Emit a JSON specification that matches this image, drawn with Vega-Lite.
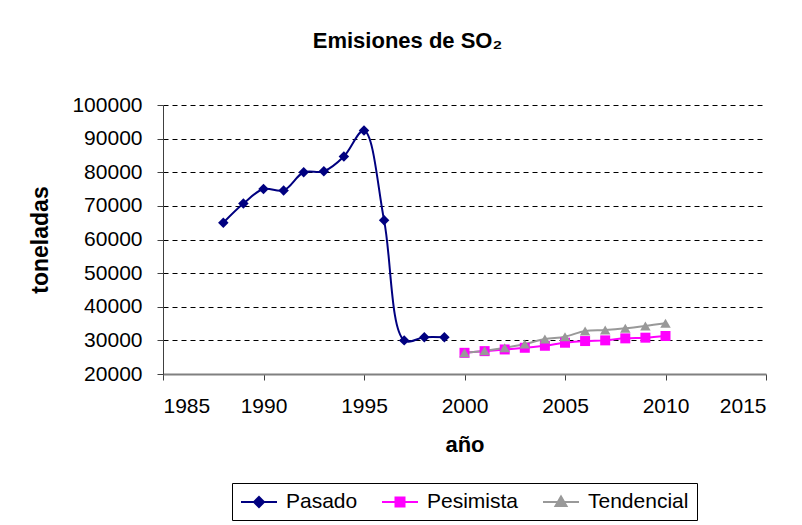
{
  "$schema": "https://vega.github.io/schema/vega-lite/v6.json",
  "autosize": "none",
  "width": 603,
  "height": 269,
  "padding": {"left": 163, "top": 105, "right": 36, "bottom": 151},
  "background": "white",
  "config": {
    "font": "Liberation Sans",
    "view": {"stroke": null}
  },
  "title": {
    "text": "Emisiones de SO₂",
    "fontSize": 22,
    "fontWeight": "bold",
    "color": "black",
    "anchor": "middle",
    "dx": -57,
    "offset": 41
  },
  "data": {
    "values": [
      {"serie": "Pasado", "año": 1988, "t": 65000},
      {"serie": "Pasado", "año": 1989, "t": 70700},
      {"serie": "Pasado", "año": 1990, "t": 75000},
      {"serie": "Pasado", "año": 1991, "t": 74600},
      {"serie": "Pasado", "año": 1992, "t": 80000},
      {"serie": "Pasado", "año": 1993, "t": 80300},
      {"serie": "Pasado", "año": 1994, "t": 84700},
      {"serie": "Pasado", "año": 1995, "t": 92400},
      {"serie": "Pasado", "año": 1996, "t": 65700},
      {"serie": "Pasado", "año": 1997, "t": 30000},
      {"serie": "Pasado", "año": 1998, "t": 30900},
      {"serie": "Pasado", "año": 1999, "t": 30900},
      {"serie": "Pesimista", "año": 2000, "t": 26300},
      {"serie": "Pesimista", "año": 2001, "t": 26800},
      {"serie": "Pesimista", "año": 2002, "t": 27300},
      {"serie": "Pesimista", "año": 2003, "t": 27800},
      {"serie": "Pesimista", "año": 2004, "t": 28400},
      {"serie": "Pesimista", "año": 2005, "t": 29300},
      {"serie": "Pesimista", "año": 2006, "t": 29800},
      {"serie": "Pesimista", "año": 2007, "t": 30000},
      {"serie": "Pesimista", "año": 2008, "t": 30600},
      {"serie": "Pesimista", "año": 2009, "t": 30800},
      {"serie": "Pesimista", "año": 2010, "t": 31300},
      {"serie": "Tendencial", "año": 2000, "t": 26300},
      {"serie": "Tendencial", "año": 2001, "t": 26900},
      {"serie": "Tendencial", "año": 2002, "t": 27800},
      {"serie": "Tendencial", "año": 2003, "t": 28900},
      {"serie": "Tendencial", "año": 2004, "t": 30400},
      {"serie": "Tendencial", "año": 2005, "t": 31100},
      {"serie": "Tendencial", "año": 2006, "t": 32800},
      {"serie": "Tendencial", "año": 2007, "t": 33100},
      {"serie": "Tendencial", "año": 2008, "t": 33600},
      {"serie": "Tendencial", "año": 2009, "t": 34300},
      {"serie": "Tendencial", "año": 2010, "t": 35100}
    ]
  },
  "encoding": {
    "x": {
      "field": "año",
      "type": "quantitative",
      "scale": {"domain": [1985, 2015], "nice": false, "zero": false},
      "axis": {
        "title": "año",
        "titleFontSize": 22,
        "titleFontWeight": "bold",
        "titleColor": "black",
        "titlePadding": 18,
        "values": [1985, 1990, 1995, 2000, 2005, 2010, 2015],
        "format": "d",
        "labelFontSize": 21,
        "labelColor": "black",
        "labelPadding": 15,
        "tickSize": 6,
        "tickColor": "#404040",
        "domainColor": "#808080",
        "domainWidth": 2,
        "grid": false
      }
    },
    "y": {
      "field": "t",
      "type": "quantitative",
      "scale": {"domain": [20000, 100000], "nice": false, "zero": false},
      "axis": {
        "title": "toneladas",
        "titleFontSize": 23,
        "titleFontWeight": "bold",
        "titleColor": "black",
        "titlePadding": 19,
        "values": [20000, 30000, 40000, 50000, 60000, 70000, 80000, 90000, 100000],
        "format": "d",
        "labelFontSize": 21,
        "labelColor": "black",
        "labelPadding": 15,
        "tickSize": 6,
        "tickColor": "#404040",
        "domainColor": "#404040",
        "grid": true,
        "gridColor": "black",
        "gridDash": [5, 4],
        "gridWidth": 1
      }
    }
  },
  "layer": [
    {
      "mark": {"type": "line", "interpolate": "catmull-rom", "strokeWidth": 2},
      "encoding": {
        "color": {
          "field": "serie",
          "type": "nominal",
          "scale": {"domain": ["Pasado", "Pesimista", "Tendencial"], "range": ["#000080", "#FF00FF", "#999999"]},
          "legend": {
            "title": null,
            "orient": "none",
            "direction": "horizontal",
            "legendX": 69,
            "legendY": 378,
            "padding": 8,
            "strokeColor": "black",
            "fillColor": "white",
            "labelFontSize": 21,
            "labelColor": "black",
            "labelOffset": 24,
            "columnPadding": 20,
            "symbolSize": 400,
            "symbolStrokeWidth": 2,
            "encode": {
              "symbols": {
                "update": {
                  "shape": {"signal": "datum.value === 'Pasado' ? 'M-1,0L2.6,0M0.8,-0.5L1.3,0L0.8,0.5L0.3,0Z' : datum.value === 'Pesimista' ? 'M-1,0L2.6,0M0.35,-0.45L1.25,-0.45L1.25,0.45L0.35,0.45Z' : 'M-1,0L2.6,0M0.8,-0.55L1.35,0.4L0.25,0.4Z'"},
                  "fill": {"scale": "color", "field": "value"},
                  "stroke": {"scale": "color", "field": "value"},
                  "fillOpacity": {"value": 1},
                  "strokeWidth": {"value": 2}
                }
              }
            }
          }
        }
      }
    },
    {
      "transform": [{"filter": "datum.serie === 'Pasado'"}],
      "mark": {"type": "point", "shape": "diamond", "filled": true, "opacity": 1, "color": "#000080", "size": 110},
      "encoding": {}
    },
    {
      "transform": [{"filter": "datum.serie === 'Pesimista'"}],
      "mark": {"type": "point", "shape": "square", "filled": true, "opacity": 1, "color": "#FF00FF", "size": 100},
      "encoding": {}
    },
    {
      "transform": [{"filter": "datum.serie === 'Tendencial'"}],
      "mark": {"type": "point", "shape": "triangle-up", "filled": true, "opacity": 1, "color": "#999999", "size": 110},
      "encoding": {}
    }
  ]
}
